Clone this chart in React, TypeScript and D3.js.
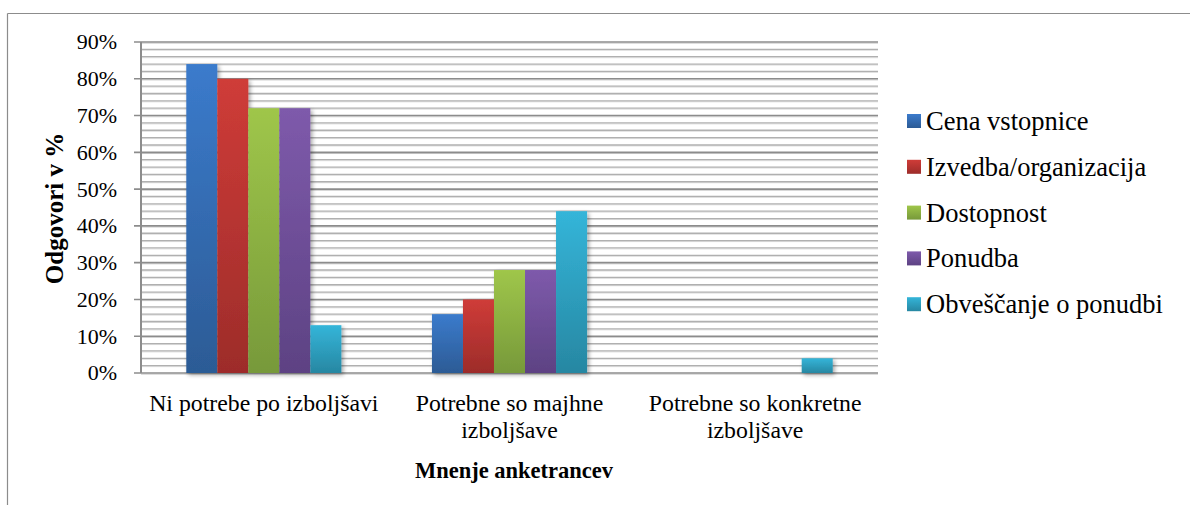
import React from "react";
import * as d3 from "d3";

const categories: string[][] = [
  ["Ni potrebe po izboljšavi"],
  ["Potrebne so majhne", "izboljšave"],
  ["Potrebne so konkretne", "izboljšave"],
];
const seriesNames = [
  "Cena vstopnice",
  "Izvedba/organizacija",
  "Dostopnost",
  "Ponudba",
  "Obveščanje o ponudbi",
];
const cenaVstopnice = [0.84, 0.16, 0];
const izvedba = [0.8, 0.2, 0];
const dostopnost = [0.72, 0.28, 0];
const ponudba = [0.72, 0.28, 0];
const obvescanje = [0.13, 0.44, 0.04];
const seriesValues = [cenaVstopnice, izvedba, dostopnost, ponudba, obvescanje];
const yTicks = [0, 0.1, 0.2, 0.3, 0.4, 0.5, 0.6, 0.7, 0.8, 0.9];
const colorsTop = ["#3b7bcc", "#cf3c38", "#9fc64a", "#7e5aab", "#34b5d9"];
const colorsBottom = ["#2c5b95", "#9d2c2a", "#77993a", "#5d4283", "#2787a2"];

const W = 1190;
const H = 505;
const left = 141;
const right = 878;
const top = 42;
const bottom = 373;
const FONT = "'Liberation Serif', 'Times New Roman', serif";

export default function App() {
  const y = d3.scaleLinear().domain([0, 0.9]).range([bottom, top]);
  const x0 = d3
    .scaleBand<number>()
    .domain(d3.range(categories.length))
    .range([left, right])
    .padding(0);
  const x1 = d3
    .scaleBand<number>()
    .domain(d3.range(seriesNames.length))
    .range([0, x0.bandwidth()])
    .paddingInner(0)
    .paddingOuter(1.46);
  const minorTicks = d3.range(0, 0.9001, 0.02).filter(
    (v) => Math.abs(Math.round(v * 10) - v * 10) > 1e-6
  );

  return (
    <svg
      width={W}
      height={H}
      style={{ position: "absolute", left: 0, top: 0, background: "#fff" }}
    >
      <defs>
        {seriesNames.map((_, i) => (
          <linearGradient key={i} id={`g${i}`} x1="0" y1="0" x2="0" y2="1">
            <stop offset="0" stopColor={colorsTop[i]} />
            <stop offset="1" stopColor={colorsBottom[i]} />
          </linearGradient>
        ))}
        <filter id="sh" x="-30%" y="-30%" width="160%" height="160%">
          <feGaussianBlur in="SourceAlpha" stdDeviation="2" />
          <feOffset dx="2" dy="2" result="b" />
          <feComponentTransfer>
            <feFuncA type="linear" slope="0.35" />
          </feComponentTransfer>
          <feMerge>
            <feMergeNode />
            <feMergeNode in="SourceGraphic" />
          </feMerge>
        </filter>
      </defs>
      {/* outer frame */}
      <line x1={7.5} y1={13.5} x2={W} y2={13.5} stroke="#8c8c8c" strokeWidth={1.2} />
      <line x1={7.5} y1={13.5} x2={7.5} y2={H} stroke="#8c8c8c" strokeWidth={1.2} />

      {/* minor gridlines */}
      {minorTicks.map((v, i) => (
        <g key={"m" + i}>
          <line x1={left} x2={right} y1={y(v) + 1} y2={y(v) + 1} stroke="#dedede" strokeWidth={1} />
          <line x1={left} x2={right} y1={y(v)} y2={y(v)} stroke="#b0b0b0" strokeWidth={1.3} />
        </g>
      ))}
      {/* major gridlines */}
      {yTicks.map((v, i) => (
        <g key={"M" + i}>
          <line x1={left} x2={right} y1={y(v) + 1.2} y2={y(v) + 1.2} stroke="#d0d0d0" strokeWidth={1} />
          <line x1={left - 7} x2={right} y1={y(v)} y2={y(v)} stroke="#8c8c8c" strokeWidth={1.6} />
        </g>
      ))}
      {/* y axis line */}
      <line x1={left} x2={left} y1={top} y2={bottom} stroke="#8c8c8c" strokeWidth={2} />

      {/* bars */}
      <g filter="url(#sh)">
        {categories.map((_, ci) =>
          seriesValues.map((vals, si) =>
            vals[ci] > 0 ? (
              <rect
                key={`${ci}-${si}`}
                x={(x0(ci) as number) + (x1(si) as number)}
                y={y(vals[ci])}
                width={x1.bandwidth()}
                height={bottom - y(vals[ci])}
                fill={`url(#g${si})`}
              />
            ) : null
          )
        )}
      </g>

      {/* y tick labels */}
      {yTicks.map((v, i) => (
        <text
          key={"t" + i}
          x={117}
          y={y(v)}
          dy="0.34em"
          textAnchor="end"
          fontFamily={FONT}
          fontSize={22}
          fill="#000"
        >
          {d3.format(".0%")(v)}
        </text>
      ))}

      {/* category labels */}
      {categories.map((lines, ci) => (
        <text
          key={"c" + ci}
          x={(x0(ci) as number) + x0.bandwidth() / 2}
          y={411}
          textAnchor="middle"
          fontFamily={FONT}
          fontSize={23.8}
          fill="#000"
        >
          {lines.map((l, li) => (
            <tspan key={li} x={(x0(ci) as number) + x0.bandwidth() / 2} y={411 + li * 27}>
              {l}
            </tspan>
          ))}
        </text>
      ))}

      {/* axis titles */}
      <text
        x={514}
        y={478}
        textAnchor="middle"
        fontFamily={FONT}
        fontWeight="bold"
        fontSize={22.5}
        fill="#000"
      >
        Mnenje anketrancev
      </text>
      <text
        transform={`translate(63,${(top + bottom) / 2 + 1}) rotate(-90)`}
        textAnchor="middle"
        fontFamily={FONT}
        fontWeight="bold"
        fontSize={25}
        fill="#000"
      >
        Odgovori v %
      </text>

      {/* legend */}
      {seriesNames.map((name, i) => (
        <g key={"l" + i} transform={`translate(907,${114 + i * 45.8})`}>
          <rect x={0} y={0} width={14} height={14} fill={`url(#g${i})`} />
          <text x={19} y={16} fontFamily={FONT} fontSize={26.5} fill="#000">
            {name}
          </text>
        </g>
      ))}
    </svg>
  );
}
